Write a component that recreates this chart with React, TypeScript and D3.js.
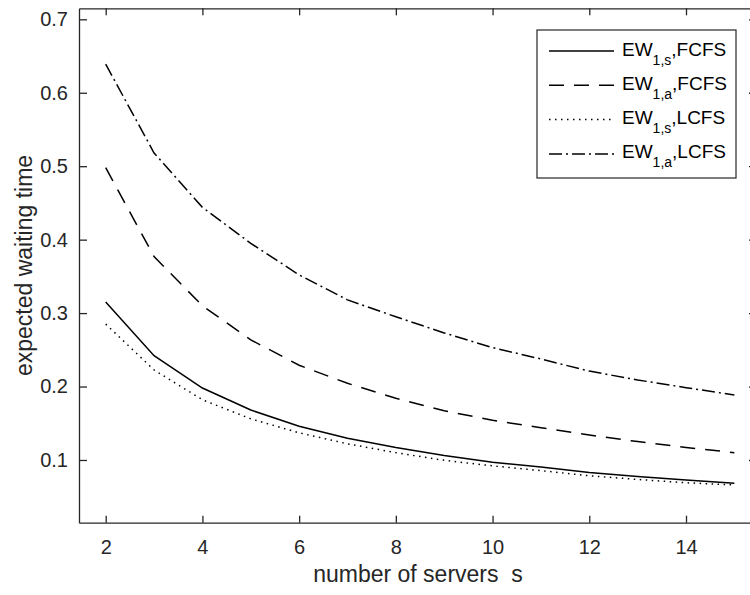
import React, { useRef, useEffect } from "react";
import { select, scaleLinear, axisBottom, axisLeft, axisTop, axisRight, line } from "d3";

// number of servers
const servers = [2, 3, 4, 5, 6, 7, 8, 9, 10, 11, 12, 13, 14, 15];
// expected waiting time per series
const ew1sFcfs = [0.315, 0.242, 0.198, 0.168, 0.146, 0.1295, 0.117, 0.106, 0.097, 0.0905, 0.083, 0.0775, 0.0728, 0.0683];
const ew1aFcfs = [0.498, 0.377, 0.31, 0.2636, 0.229, 0.2044, 0.184, 0.167, 0.154, 0.144, 0.134, 0.125, 0.117, 0.11];
const ew1sLcfs = [0.285, 0.2225, 0.182, 0.156, 0.137, 0.122, 0.11, 0.0995, 0.092, 0.0855, 0.0785, 0.0735, 0.069, 0.066];
const ew1aLcfs = [0.639, 0.518, 0.444, 0.395, 0.352, 0.318, 0.295, 0.273, 0.253, 0.2375, 0.221, 0.209, 0.1985, 0.1885];

const xTicks = [2, 4, 6, 8, 10, 12, 14];
const yTicks = [0.1, 0.2, 0.3, 0.4, 0.5, 0.6, 0.7];

const seriesNames = ["FCFS", "FCFS", "LCFS", "LCFS"];
const seriesSubs = ["1,s", "1,a", "1,s", "1,a"];
const seriesDash = [null, "15,10", "1.5,4.5", "13,4,2,4"];

const FONT = "'Liberation Sans', Arial, Helvetica, sans-serif";
const AXIS = "#262626";

const App = () => {
  const svgRef = useRef(null);

  useEffect(() => {
    const svg = select(svgRef.current);
    svg.selectAll("*").remove();

    const left = 79, right = 757, top = 8.3, bottom = 522.7;
    const x = scaleLinear().domain([1.448, 15.468]).range([left, right]);
    const y = scaleLinear().domain([0.0146, 0.715]).range([bottom, top]);

    // axes (inward ticks, matlab style)
    const styleAxis = g => {
      g.attr("font-family", FONT).attr("font-size", 20);
      g.selectAll("path").attr("stroke", AXIS).attr("stroke-width", 1.3);
      g.selectAll("line").attr("stroke", AXIS).attr("stroke-width", 1.3);
      g.selectAll("text").attr("fill", AXIS);
    };

    svg.append("g")
      .attr("transform", `translate(0,${bottom})`)
      .call(axisBottom(x).tickValues(xTicks).tickSize(-7).tickSizeOuter(0).tickPadding(17).tickFormat(d => String(d)))
      .call(styleAxis);
    svg.append("g")
      .attr("transform", `translate(0,${top})`)
      .call(axisTop(x).tickValues(xTicks).tickSize(-7).tickSizeOuter(0).tickFormat(() => ""))
      .call(styleAxis);
    svg.append("g")
      .attr("transform", `translate(${left},0)`)
      .call(axisLeft(y).tickValues(yTicks).tickSize(-8).tickSizeOuter(0).tickPadding(11).tickFormat(d => String(d)))
      .call(styleAxis);
    svg.append("g")
      .attr("transform", `translate(${right},0)`)
      .call(axisRight(y).tickValues(yTicks).tickSize(-8).tickSizeOuter(0).tickFormat(() => ""))
      .call(styleAxis);

    // axis labels
    svg.append("text")
      .attr("x", (left + right) / 2)
      .attr("y", 582)
      .attr("text-anchor", "middle")
      .attr("font-family", FONT)
      .attr("font-size", 23)
      .attr("fill", AXIS)
      .style("white-space", "pre")
      .text("number of servers  s");

    svg.append("text")
      .attr("transform", `translate(32,${(top + bottom) / 2}) rotate(-90)`)
      .attr("text-anchor", "middle")
      .attr("font-family", FONT)
      .attr("font-size", 23)
      .attr("fill", AXIS)
      .text("expected waiting time");

    // series
    const allSeries = [ew1sFcfs, ew1aFcfs, ew1sLcfs, ew1aLcfs];
    const lineGen = line().x(d => x(d[0])).y(d => y(d[1]));

    allSeries.forEach((vals, i) => {
      svg.append("path")
        .datum(servers.map((s, j) => [s, vals[j]]))
        .attr("d", lineGen)
        .attr("fill", "none")
        .attr("stroke", "#000")
        .attr("stroke-width", 1.5)
        .attr("stroke-dasharray", seriesDash[i]);
    });

    // legend
    const lg = svg.append("g");
    lg.append("rect")
      .attr("x", 537).attr("y", 30)
      .attr("width", 199).attr("height", 148)
      .attr("fill", "#fff")
      .attr("stroke", AXIS)
      .attr("stroke-width", 1.2);

    seriesNames.forEach((name, i) => {
      const ly = 51 + i * 34.3;
      lg.append("line")
        .attr("x1", 549).attr("x2", 614)
        .attr("y1", ly).attr("y2", ly)
        .attr("stroke", "#000")
        .attr("stroke-width", 1.5)
        .attr("stroke-dasharray", seriesDash[i]);
      const t = lg.append("text")
        .attr("x", 622)
        .attr("y", ly + 4.5)
        .attr("font-family", FONT)
        .attr("font-size", 19)
        .attr("fill", "#000");
      t.append("tspan").text("EW");
      t.append("tspan").attr("dy", 9).attr("font-size", 14).text(seriesSubs[i]);
      t.append("tspan").attr("dy", -9).text("," + name);
    });
  }, []);

  return (
    <svg
      ref={svgRef}
      width={750}
      height={595}
      style={{ position: "absolute", left: 0, top: 0, background: "#fff" }}
    />
  );
};

export default App;
